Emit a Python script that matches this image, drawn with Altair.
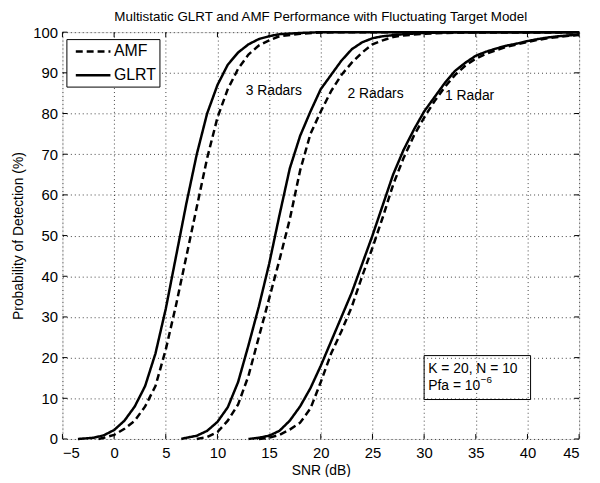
import altair as alt
import pandas as pd

# ---- data ----
snr_glrt3 = [-3.5, -3, -2, -1, 0, 1, 2, 3, 4, 5, 6, 7, 8, 9, 10, 11, 12, 13, 14, 15, 16, 18, 20, 25, 30, 35, 40, 45]
pd_glrt3 = [0, 0.1, 0.3, 0.9, 2.2, 4.5, 8, 13, 21, 32, 45, 58, 70, 80, 87, 92, 95, 97, 98.3, 99, 99.5, 99.8, 100, 100, 100, 100, 100, 100]

snr_amf3 = [-1.5, -1, 0, 1, 2, 3, 4, 5, 6, 7, 8, 9, 10, 11, 12, 13, 14, 15, 16, 18, 20, 22, 25, 30, 35, 40, 45]
pd_amf3 = [0, 0.3, 1, 2.5, 4.5, 8, 13, 22, 33, 45, 57, 69, 79, 86, 91, 94.5, 96.7, 98, 99, 99.6, 99.9, 100, 100, 100, 100, 100, 100]

snr_glrt2 = [6.5, 7, 8, 9, 10, 11, 12, 13, 14, 15, 16, 17, 18, 19, 20, 21, 22, 23, 24, 25, 26, 28, 30, 33, 35, 40, 45]
pd_glrt2 = [0, 0.3, 0.8, 2, 4.2, 7.8, 14, 23, 32.5, 43, 55, 66.5, 74.5, 80.5, 86, 89.5, 93, 95.8, 97.5, 98.5, 99, 99.5, 99.8, 100, 100, 100, 100]

snr_amf2 = [8, 9, 10, 11, 12, 13, 14, 15, 16, 17, 18, 19, 20, 21, 22, 23, 24, 25, 26, 27, 28, 30, 33, 35, 40, 45]
pd_amf2 = [0, 0.5, 1.7, 4.5, 8.5, 15.5, 25, 34.5, 44, 54, 66, 75, 80.5, 85.5, 89.5, 92.5, 95, 97, 98, 98.8, 99.2, 99.6, 99.9, 100, 100, 100]

snr_glrt1 = [13, 14, 15, 16, 17, 18, 19, 20, 21, 22, 23, 24, 25, 26, 27, 28, 29, 30, 31, 32, 33, 34, 35, 36, 37, 38, 39, 40, 41, 42, 43, 44, 45]
pd_glrt1 = [0, 0.3, 0.8, 2, 4.5, 8, 12.5, 18, 24, 30, 36, 43, 50, 57.5, 65, 71, 76, 80.5, 84, 87.5, 90.5, 92.5, 94.2, 95.2, 96, 96.7, 97.2, 97.8, 98.3, 98.7, 99, 99.2, 99.4]

snr_amf1 = [14, 15, 16, 17, 18, 19, 20, 21, 22, 23, 24, 25, 26, 27, 28, 29, 30, 31, 32, 33, 34, 35, 36, 37, 38, 39, 40, 41, 42, 43, 44, 45]
pd_amf1 = [0, 0.3, 1, 2.3, 4, 7.5, 14, 21, 26.5, 32.5, 40, 47, 54.5, 62.5, 69, 74.5, 79, 83, 86.5, 89.5, 91.8, 93.5, 94.7, 95.6, 96.4, 97, 97.6, 98.1, 98.5, 98.8, 99.1, 99.3]

x_ticks = [-5, 0, 5, 10, 15, 20, 25, 30, 35, 40, 45]
y_ticks = [0, 10, 20, 30, 40, 50, 60, 70, 80, 90, 100]

curve_labels = ["3 Radars", "2 Radars", "1 Radar"]
curve_label_x = [15.45, 25.3, 34.4]
curve_label_y = [85.5, 84.9, 84.3]

box_lines = ["K = 20, N = 10", "Pfa = 10"]
box_line_y = [17.3, 13.0]

# ---- build tables ----
rows = []
for det, rad, xs, ys in [
    ("GLRT", "3", snr_glrt3, pd_glrt3), ("AMF", "3", snr_amf3, pd_amf3),
    ("GLRT", "2", snr_glrt2, pd_glrt2), ("AMF", "2", snr_amf2, pd_amf2),
    ("GLRT", "1", snr_glrt1, pd_glrt1), ("AMF", "1", snr_amf1, pd_amf1),
]:
    for x, y in zip(xs, ys):
        rows.append({"snr": x, "pd": y, "detector": det, "curve": det + rad})
df = pd.DataFrame(rows)

W, H = 522, 411
FONT = "Liberation Sans"

xscale = alt.Scale(domain=[-5, 45], nice=False, zero=False)
yscale = alt.Scale(domain=[0, 100], nice=False)

lines = alt.Chart(df).mark_line(strokeWidth=2.5, color="black").encode(
    x=alt.X("snr:Q", scale=xscale, axis=alt.Axis(
        values=x_ticks, title="SNR (dB)", grid=True, ticks=False, domain=False,
        gridDash=[1, 3], gridColor="#000", gridOpacity=0.75,
        labelFontSize=15, labelFont=FONT, labelColor="black", labelPadding=7,
        titleFont=FONT, titleFontSize=14, titleFontWeight="normal", titleColor="black", titlePadding=3)),
    y=alt.Y("pd:Q", scale=yscale, axis=alt.Axis(
        values=y_ticks, title="Probability of Detection (%)", grid=True, ticks=False, domain=False,
        gridDash=[1, 3], gridColor="#000", gridOpacity=0.75,
        labelFontSize=15, labelFont=FONT, labelColor="black", labelPadding=5,
        titleFont=FONT, titleFontSize=14, titleFontWeight="normal", titleColor="black", titlePadding=7)),
    strokeDash=alt.StrokeDash("detector:N",
        scale=alt.Scale(domain=["AMF", "GLRT"], range=[[7, 4], [1, 0]]),
        legend=alt.Legend(title=None, orient="none", legendX=4, legendY=7,
                          fillColor="white", strokeColor="black", padding=3,
                          symbolType="M-0.375,0H4", symbolSize=256, symbolStrokeWidth=2.5,
                          symbolStrokeColor="black", labelFontSize=16, labelFont=FONT,
                          labelColor="black", rowPadding=6, labelOffset=26)),
    detail="curve:N",
)

xt = pd.DataFrame({"t": x_ticks})
yt = pd.DataFrame({"t": y_ticks})
tick_b = alt.Chart(xt).mark_rule(color="black").encode(
    x=alt.X("t:Q", scale=xscale), y=alt.value(H), y2=alt.value(H - 5))
tick_t = alt.Chart(xt).mark_rule(color="black").encode(
    x=alt.X("t:Q", scale=xscale), y=alt.value(0), y2=alt.value(5))
tick_l = alt.Chart(yt).mark_rule(color="black").encode(
    y=alt.Y("t:Q", scale=yscale), x=alt.value(0), x2=alt.value(5))
tick_r = alt.Chart(yt).mark_rule(color="black").encode(
    y=alt.Y("t:Q", scale=yscale), x=alt.value(W), x2=alt.value(W - 5))

lab_df = pd.DataFrame({"label": curve_labels, "x": curve_label_x, "y": curve_label_y})
labels = alt.Chart(lab_df).mark_text(font=FONT, fontSize=14, color="black", align="center", baseline="middle").encode(
    x=alt.X("x:Q", scale=xscale), y=alt.Y("y:Q", scale=yscale), text="label:N")

box_df = pd.DataFrame({"x": [30.0], "x2": [40.3], "y": [9.7], "y2": [20.5]})
box = alt.Chart(box_df).mark_rect(fill="transparent", stroke="black", strokeWidth=1).encode(
    x=alt.X("x:Q", scale=xscale), x2="x2:Q",
    y=alt.Y("y:Q", scale=yscale), y2="y2:Q")

bt_df = pd.DataFrame({"label": box_lines, "x": [30.4, 30.4], "y": box_line_y})
box_text = alt.Chart(bt_df).mark_text(font=FONT, fontSize=14, color="black", align="left", baseline="middle").encode(
    x=alt.X("x:Q", scale=xscale), y=alt.Y("y:Q", scale=yscale), text="label:N")

sup_df = pd.DataFrame({"label": ["\u22126"], "x": [30.4], "y": [13.0]})
sup_text = alt.Chart(sup_df).mark_text(font=FONT, fontSize=10, color="black", align="left", baseline="middle", dx=53, dy=-6).encode(
    x=alt.X("x:Q", scale=xscale), y=alt.Y("y:Q", scale=yscale), text="label:N")

chart = alt.layer(lines, tick_b, tick_t, tick_l, tick_r, box, box_text, sup_text, labels).properties(
    width=W, height=H,
    title=alt.TitleParams("Multistatic GLRT and AMF Performance with Fluctuating Target Model",
                          fontSize=13.5, fontWeight="normal", font=FONT, color="black", offset=2),
    autosize=alt.AutoSizeParams(type="none"),
    padding={"left": 55, "top": 22, "right": 13, "bottom": 36},
).configure_view(stroke="black", strokeWidth=1).configure(background="white")

chart.save("out.html", embed_options={"renderer": "svg", "actions": False})
